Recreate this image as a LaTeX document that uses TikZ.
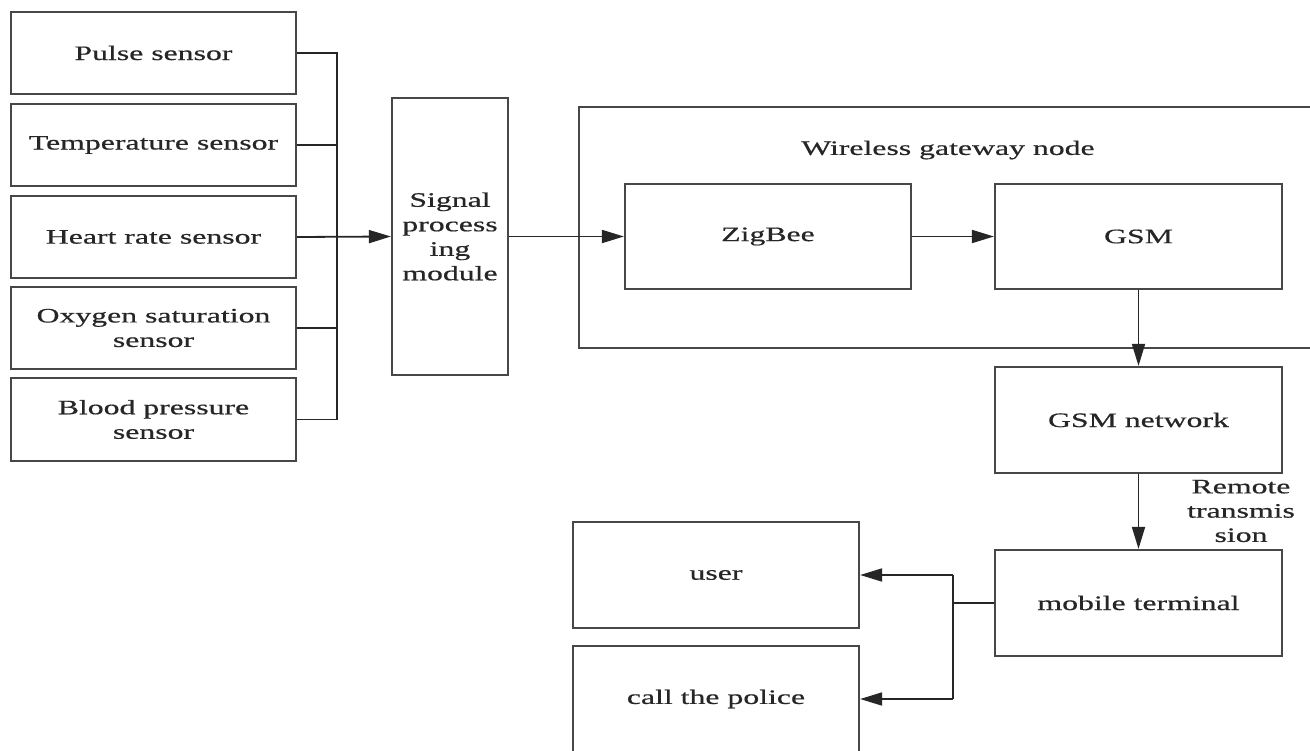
\documentclass[tikz,border=0pt]{standalone}
\usepackage{fontspec}
\setmainfont{Liberation Serif}[FakeStretch=1.55,FakeBold=0.6]
\usetikzlibrary{arrows.meta}
\begin{document}
\begin{tikzpicture}[x=1pt,y=-1pt,
  box/.style={draw=black!72,line width=2.2pt,rectangle,inner sep=0pt,align=center,
    text=black!85,font=\fontsize{20.5}{24.5}\selectfont},
  conn/.style={draw=black!85,line width=1.8pt},
  arr/.style={conn,-{Triangle[length=22pt,width=13pt]}},
  lbl/.style={inner sep=0pt,align=center,text=black!85,font=\fontsize{20.5}{24.3}\selectfont}]
\useasboundingbox (0,0) rectangle (1310,751);
% sensors
\node[box,minimum width=285pt,minimum height=82pt] (pulse) at (153.5,53) {Pulse sensor};
\node[box,minimum width=285pt,minimum height=82pt] (temp) at (153.5,145) {Temperature sensor};
\node[box,minimum width=285pt,minimum height=82pt] (heart) at (153.5,237) {Heart rate sensor};
\node[box,minimum width=285pt,minimum height=82pt] (oxy) at (153.5,328) {Oxygen saturation\\sensor};
\node[box,minimum width=285pt,minimum height=83pt] (blood) at (153.5,419.5) {Blood pressure\\sensor};
% signal processing
\node[box,minimum width=116pt,minimum height=277pt] (signal) at (450,236.5) {Signal\\process\\ing\\module};
% gateway container (open on the right)
\coordinate (gwtl) at (579,107);
\coordinate (gwbl) at (579,348);
\draw[draw=black!72,line width=2.2pt] (1312,107) -- (gwtl) -- (gwbl) -- (1312,348);
\node[lbl] (gwlabel) at (948,150) {Wireless gateway node};
\node[box,minimum width=286pt,minimum height=105pt] (zigbee) at (768,236.5) {ZigBee};
\node[box,minimum width=287pt,minimum height=105pt] (gsm) at (1138.5,236.5) {GSM};
\node[box,minimum width=287pt,minimum height=106pt] (gsmnet) at (1138.5,420) {GSM network};
\node[box,minimum width=287pt,minimum height=106pt] (mobile) at (1138.5,603) {mobile terminal};
\node[box,minimum width=286pt,minimum height=106pt] (user) at (716,575) {user};
\node[box,minimum width=286pt,minimum height=106pt] (police) at (716,699) {call the police};
\node[lbl] (remote) at (1241,511) {Remote\\transmis\\sion};
% bus
\coordinate (busx) at (337,0);
\coordinate (jx) at (953,0);
\draw[conn] (pulse.east) -- (pulse.east -| busx) -- (blood.east -| busx) -- (blood.east);
\draw[conn] (temp.east) -- (temp.east -| busx);
\draw[conn] (oxy.east) -- (oxy.east -| busx);
\draw[arr] (heart.east) -- (signal.west);
\draw[arr] (signal.east) -- (zigbee.west);
\draw[arr] (zigbee.east) -- (gsm.west);
\draw[arr] (gsm.south) -- (gsmnet.north);
\draw[arr] (gsmnet.south) -- (mobile.north);
\draw[conn] (mobile.west) -- (mobile.west -| jx);
\draw[arr] (user.east -| jx) -- (user.east);
\draw[arr] (police.east -| jx) -- (police.east);
\draw[conn] (user.east -| jx) -- (police.east -| jx);
\end{tikzpicture}
\end{document}
